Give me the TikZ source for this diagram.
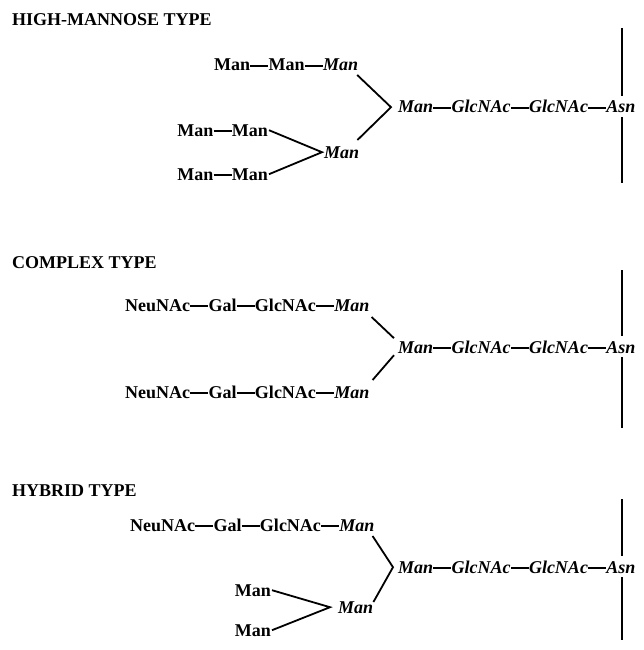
\documentclass[tikz,border=0pt]{standalone}
\usepackage{fontspec}
\setmainfont{Liberation Serif}
\begin{document}
\begin{tikzpicture}[x=1pt,y=-1pt,
  res/.style={inner sep=0pt, anchor=base west, font=\fontsize{18}{20}\selectfont\bfseries},
  core/.style={res, font=\fontsize{18}{20}\selectfont\bfseries\itshape},
  head/.style={inner sep=0pt, anchor=base west, font=\fontsize{18}{20}\selectfont\bfseries},
  after/.style={anchor=base west, at={([xshift=18pt]#1.base east)}},
  before/.style={anchor=base east, at={([xshift=-18pt]#1.base west)}},
  bond/.style={line width=1.1pt},
  branch/.style={line width=1.8pt},
  axis/.style={line width=1.3pt}]
\useasboundingbox (0,0) rectangle (643,650);

% ---------------- HIGH-MANNOSE TYPE ----------------
\node[head] (h1) at (12,26) {HIGH-MANNOSE TYPE};
% row A
\node[res] (a1) at (214,71) {Man};
\node[res, after=a1] (a2) {Man};
\node[core, after=a2] (a3) {Man};
% core chain
\node[core] (m1) at (398,113) {Man};
\node[core, after=m1] (g11) {GlcNAc};
\node[core, after=g11] (g12) {GlcNAc};
\node[core, after=g12] (asn1) {Asn};
% lower branch
\node[core] (l1) at (324,158) {Man};
\node[res, anchor=base east] (b2) at (268,136) {Man};
\node[res, before=b2] (b1) {Man};
\node[res, anchor=base east] (c2) at (268,180) {Man};
\node[res, before=c2] (c1) {Man};
% bonds
\foreach \p/\q in {a1/a2,a2/a3,m1/g11,g11/g12,g12/asn1,b1/b2,c1/c2}
  \draw[bond] ([yshift=5pt]\p.base east) -- ([yshift=5pt]\q.base west);
\draw[branch] ([shift={(-1pt,-4pt)}]a3.base east) -- ([xshift=-7pt]m1.west)
  -- ([shift={(-2pt,6pt)}]l1.north east);
\draw[branch] ([xshift=1pt]b2.east) -- ([xshift=-2pt]l1.west) -- ([xshift=1pt]c2.east);
% axis
\coordinate (t1) at (622,28);
\coordinate (e1) at (622,183);
\draw[axis] (t1) -- ([yshift=5pt]t1 |- asn1.north);
\draw[axis] ([yshift=-4pt]e1 |- asn1.south) -- (e1);

% ---------------- COMPLEX TYPE ----------------
\node[head] (h2) at (12,268) {COMPLEX TYPE};
\node[res] (n21) at (125,311) {NeuNAc};
\node[res, after=n21] (ga21) {Gal};
\node[res, after=ga21] (gl21) {GlcNAc};
\node[core, after=gl21] (mt2) {Man};
\node[core] (m2) at (398,353) {Man};
\node[core, after=m2] (g21) {GlcNAc};
\node[core, after=g21] (g22) {GlcNAc};
\node[core, after=g22] (asn2) {Asn};
\node[res] (n22) at (125,398) {NeuNAc};
\node[res, after=n22] (ga22) {Gal};
\node[res, after=ga22] (gl22) {GlcNAc};
\node[core, after=gl22] (mb2) {Man};
\foreach \p/\q in {n21/ga21,ga21/gl21,gl21/mt2,m2/g21,g21/g22,g22/asn2,n22/ga22,ga22/gl22,gl22/mb2}
  \draw[bond] ([yshift=5pt]\p.base east) -- ([yshift=5pt]\q.base west);
\draw[branch] ([shift={(2pt,-6pt)}]mt2.base east) -- ([shift={(-4pt,9pt)}]m2.west);
\draw[branch] ([shift={(-4pt,-8pt)}]m2.west) -- ([shift={(3pt,6pt)}]mb2.north east);
\coordinate (t2) at (622,270);
\coordinate (e2) at (622,428);
\draw[axis] (t2) -- ([yshift=5pt]t2 |- asn2.north);
\draw[axis] ([yshift=-4pt]e2 |- asn2.south) -- (e2);

% ---------------- HYBRID TYPE ----------------
\node[head] (h3) at (12,496) {HYBRID TYPE};
\node[res] (n31) at (130,531) {NeuNAc};
\node[res, after=n31] (ga31) {Gal};
\node[res, after=ga31] (gl31) {GlcNAc};
\node[core, after=gl31] (mt3) {Man};
\node[core] (m3) at (398,573) {Man};
\node[core, after=m3] (g31) {GlcNAc};
\node[core, after=g31] (g32) {GlcNAc};
\node[core, after=g32] (asn3) {Asn};
\node[core] (l3) at (338,613) {Man};
\node[res, anchor=base east] (u3) at (271,596) {Man};
\node[res, anchor=base east] (d3) at (271,636) {Man};
\foreach \p/\q in {n31/ga31,ga31/gl31,gl31/mt3,m3/g31,g31/g32,g32/asn3}
  \draw[bond] ([yshift=5pt]\p.base east) -- ([yshift=5pt]\q.base west);
\draw[branch] ([shift={(-2pt,-5pt)}]mt3.base east) -- ([xshift=-5pt]m3.west)
  -- ([shift={(0pt,-1pt)}]l3.north east);
\draw[branch] ([xshift=1pt]u3.east) -- ([xshift=-8pt]l3.west) -- ([xshift=1pt]d3.east);
\coordinate (t3) at (622,499);
\coordinate (e3) at (622,640);
\draw[axis] (t3) -- ([yshift=5pt]t3 |- asn3.north);
\draw[axis] ([yshift=-4pt]e3 |- asn3.south) -- (e3);
\end{tikzpicture}
\end{document}
